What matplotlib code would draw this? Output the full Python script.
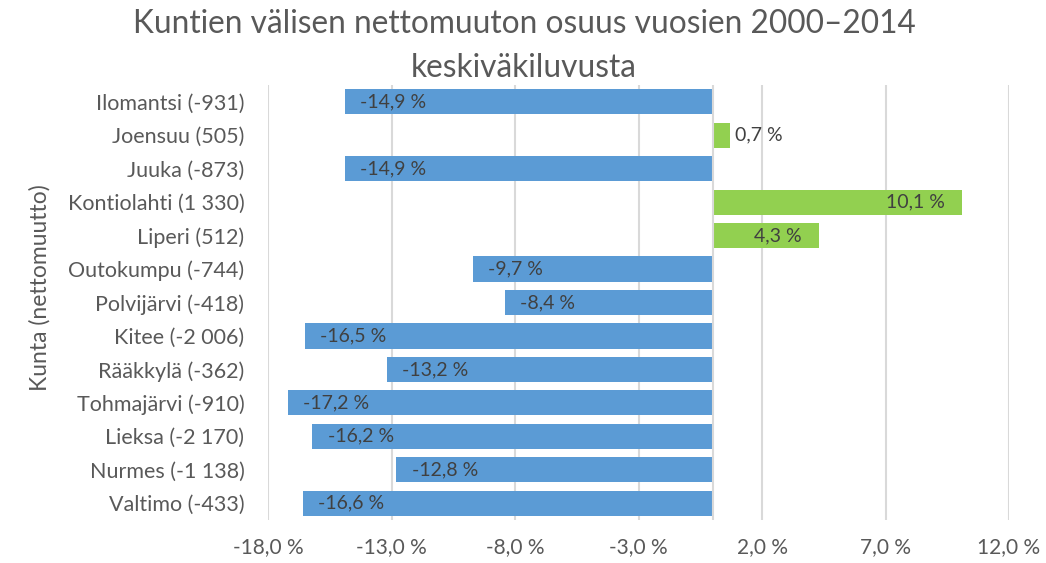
import matplotlib
matplotlib.use("Agg")
import matplotlib.pyplot as plt

plt.rcParams['font.family'] = ['Lato', 'DejaVu Sans']

categories = ["Ilomantsi (-931)", "Joensuu (505)", "Juuka (-873)", "Kontiolahti (1 330)",
              "Liperi (512)", "Outokumpu (-744)", "Polvijärvi (-418)", "Kitee (-2 006)",
              "Rääkkylä (-362)", "Tohmajärvi (-910)", "Lieksa (-2 170)", "Nurmes (-1 138)",
              "Valtimo (-433)"]
values = [-14.9, 0.7, -14.9, 10.1, 4.3, -9.7, -8.4, -16.5, -13.2, -17.2, -16.2, -12.8, -16.6]
xticks = [-18, -13, -8, -3, 2, 7, 12]

blue = "#5B9BD5"
green = "#92D050"
txt = "#595959"

fig = plt.figure(figsize=(10.46, 5.63), dpi=100)
ax = fig.add_axes([268/1046, 1-520/563, (1009-268)/1046, (520-85)/563])

n = len(categories)
ys = list(range(n))
colors = [blue if v < 0 else green for v in values]
ax.barh(ys, values, height=0.75, color=colors, zorder=3)
ax.set_ylim(n - 0.5, -0.5)
ax.set_xlim(-18, 12)
ax.set_xticks(xticks)
ax.set_xticklabels([f"{t:.1f} %".replace(".", ",") for t in xticks],
                   fontsize=15, color=txt)
ax.set_yticks(ys)
ax.set_yticklabels(categories, fontsize=15.5, color=txt)
ax.tick_params(axis='both', length=0)
ax.tick_params(axis='y', pad=17)
ax.tick_params(axis='x', pad=12)
for s in ax.spines.values():
    s.set_visible(False)
ax.grid(axis='x', color="#D9D9D9", linewidth=1.5, zorder=0)
ax.axvline(0, color="#D9D9D9", linewidth=1.5, zorder=4)

for y, v in zip(ys, values):
    lab = f"{v:.1f} %".replace(".", ",")
    if v < 0:
        ax.text(v + 0.62, y, lab, ha='left', va='center', fontsize=14, color="#404040", zorder=5)
    elif v < 2:
        ax.text(v + 0.2, y, lab, ha='left', va='center', fontsize=14, color="#404040", zorder=5)
    else:
        ax.text(v - 0.7, y, lab, ha='right', va='center', fontsize=14, color="#404040", zorder=5)

fig.text(0.501, 0.958, "Kuntien välisen nettomuuton osuus vuosien 2000–2014", ha='center', va='center',
         fontsize=22.8, color=txt)
fig.text(0.501, 0.88, "keskiväkiluvusta", ha='center', va='center', fontsize=22.8, color=txt)
fig.text(0.038, 0.49, "Kunta (nettomuutto)", rotation=90, ha='center', va='center', fontsize=16.5, color=txt)

fig.savefig("out.png", dpi=100)
